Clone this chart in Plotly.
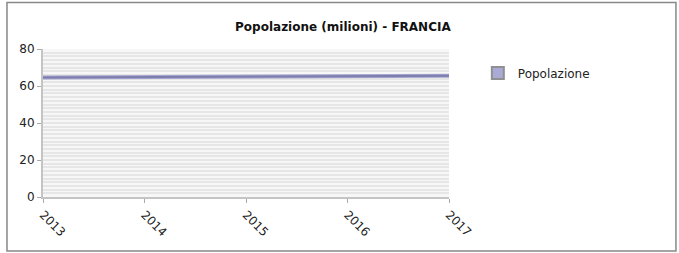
import plotly.graph_objects as go

years = ["2013", "2014", "2015", "2016", "2017"]
popolazione = [64.6, 64.9, 65.2, 65.4, 65.6]
y_ticks = [0, 20, 40, 60, 80]

fig = go.Figure()
fig.add_trace(go.Scatter(
    x=years, y=popolazione, mode="lines",
    line=dict(color="#a4a4d0", width=4),
    showlegend=False, hoverinfo="skip"))
fig.add_trace(go.Scatter(
    x=years, y=popolazione, mode="lines",
    line=dict(color="#7e7eae", width=2),
    showlegend=False, hoverinfo="x+y"))
fig.add_trace(go.Scatter(
    x=[None], y=[None], mode="markers", name="Popolazione",
    marker=dict(symbol="square", size=13, color="#aaaad6",
                line=dict(color="#909090", width=1))))

fig.update_layout(
    width=679, height=253,
    margin=dict(l=43, r=230, t=49, b=56, autoexpand=False),
    paper_bgcolor="white", plot_bgcolor="#f7f7f7",
    font=dict(family="DejaVu Sans", size=12, color="#222"),
    title=dict(text="<b>Popolazione (milioni) - FRANCIA</b>", x=0.505, xanchor="center",
               xref="container", y=0.895, yanchor="middle", yref="container",
               font=dict(size=12, color="#111")),
    legend=dict(x=1.071, y=0.935, xanchor="left", yanchor="top",
                font=dict(size=12), bgcolor="rgba(0,0,0,0)", itemsizing="constant",
                itemwidth=30),
    shapes=[dict(type="rect", xref="paper", yref="paper",
                 x0=-0.0887, x1=1.559, y0=-0.365, y1=1.314,
                 line=dict(color="#888", width=1.5))],
)
fig.update_xaxes(
    type="category", range=[0, 4], tickangle=45, automargin=False,
    showline=True, linecolor="#c4c4c4", linewidth=2,
    ticks="outside", ticklen=4, tickcolor="#aaa",
    showgrid=False, zeroline=False, tickfont=dict(size=12))
fig.update_yaxes(
    range=[0, 80], tickvals=y_ticks, ticktext=[str(v) for v in y_ticks],
    automargin=False,
    showline=True, linecolor="#c4c4c4", linewidth=2,
    ticks="outside", ticklen=4, tickcolor="#aaa",
    showgrid=True, gridcolor="#e6e6e6", gridwidth=2, zeroline=False,
    minor=dict(dtick=2, showgrid=True, gridcolor="#e6e6e6", gridwidth=2),
    tickfont=dict(size=12))

fig.write_html("out.html", config={"displayModeBar": False},
               post_script="document.body.style.margin='0';document.body.style.overflow='hidden';")
